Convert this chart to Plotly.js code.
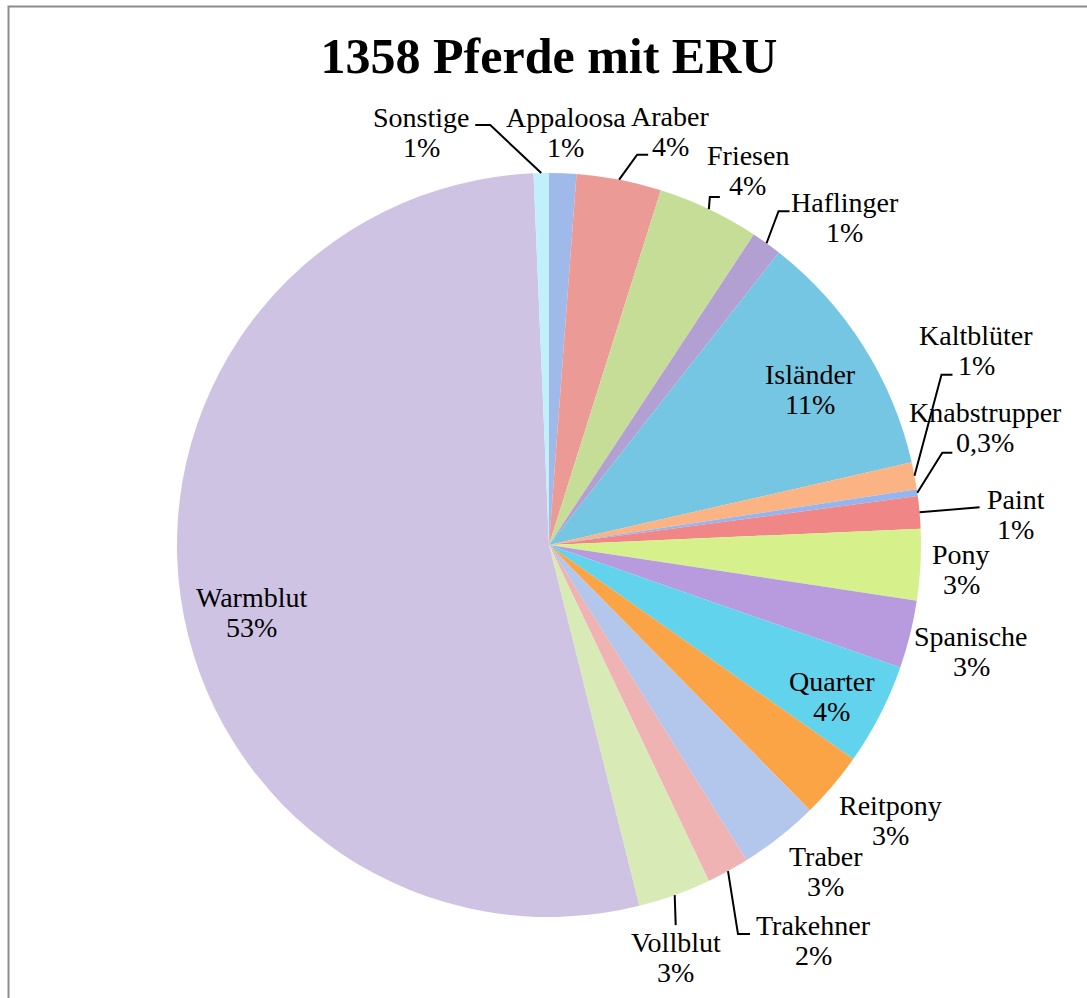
<!DOCTYPE html>
<html>
<head>
<meta charset="utf-8">
<script src="https://cdn.plot.ly/plotly-3.0.1.min.js"></script>
<style>html,body{margin:0;padding:0;background:#fff;}#chart{width:1087px;height:998px;}</style>
</head>
<body>
<div id="chart"></div>
<script>
// ---- data (total 1358 horses) ----
const breeds = ["Appaloosa","Araber","Friesen","Haflinger","Isländer","Kaltblüter","Knabstrupper","Paint","Pony","Spanische","Quarter","Reitpony","Traber","Trakehner","Vollblut","Warmblut","Sonstige"];
const horses = [16,50,60,18,147,16,4,19,42,40,60,39,47,25,43,723,9];
const sliceColors = ["#9fbaea","#eb9a96","#c6dd98","#b3a0d2","#74c6e2","#fbb384","#93b6f0","#f08686","#d6f18c","#b89ade","#62d3ec","#fba446","#b3c6ec","#efb3b3","#d8eab6","#cfc3e4","#bff0fc"];

// ---- layout configuration (not data) ----
const W = 1087, H = 998;
const CX = 549, CY = 545, R = 372;           // pie centre / radius in px
// label-centre offsets (px) from the slice-edge anchor
const labelDX = [3,51,39,78,-53,62,68,96,41,61,-48,58,46,85,1,71,-120];
const labelDY = [-41,-48,-39,-26,44,-125,-65,2,5,17,-18,35,35,69,62,14,-41];
// leader lines: [elbow, end] relative to label centre, or null
const leaders = [
  null,
  [[-33,23],[-22,23]],
  [[-38,27],[-28,27]],
  [[-66,-6],[-55,-6]],
  null,
  [[-35,24],[-24,24]],
  [[-43,25],[-33,25]],
  [[-36,-7],[-36,-7]],
  null, null, null, null, null,
  [[-75,-6],[-63,-6]],
  [[0,-32],[0,-32]],
  null,
  [[69,-7],[54,-7]]
];

const total = horses.reduce((a,b)=>a+b,0);
function pctText(v){
  const p = v/total*100;
  if (Math.round(p) === 0) return p.toFixed(1).replace('.', ',') + '%';
  return Math.round(p) + '%';
}

const fx = px => px/W, fy = py => 1 - py/H;
const labelFont = {family:'Liberation Serif, serif', size:28, color:'#000'};
const annotations = [];
const shapes = [{type:'rect', xref:'paper', yref:'paper', x0:fx(8.5), x1:1.05, y0:-0.05, y1:fy(6.5),
                 line:{color:'#8c8c8c', width:2}, fillcolor:'rgba(0,0,0,0)'}];
let cum = 0;
horses.forEach((v,i)=>{
  const mid = (cum + v/2)/total * 2*Math.PI;
  cum += v;
  const tx = CX + R*Math.sin(mid);
  const ty = CY - R*Math.cos(mid);
  const lx = tx + labelDX[i], ly = ty + labelDY[i];
  annotations.push({xref:'paper', yref:'paper', x:fx(lx), y:fy(ly-15), xanchor:'center', yanchor:'middle',
    text: breeds[i], showarrow:false, font: labelFont});
  annotations.push({xref:'paper', yref:'paper', x:fx(lx), y:fy(ly+15), xanchor:'center', yanchor:'middle',
    text: pctText(v), showarrow:false, font: labelFont});
  if (leaders[i]) {
    const e = leaders[i][0], s = leaders[i][1];
    const path = 'M' + fx(tx) + ',' + fy(ty) + ' L' + fx(lx+e[0]) + ',' + fy(ly+e[1]) + ' L' + fx(lx+s[0]) + ',' + fy(ly+s[1]);
    shapes.push({type:'path', xref:'paper', yref:'paper', path: path, line:{color:'#000', width:2}});
  }
});

const trace = {
  type:'pie',
  labels: breeds,
  values: horses,
  sort:false,
  direction:'clockwise',
  rotation:0,
  textinfo:'none',
  hoverinfo:'label+value+percent',
  marker:{colors: sliceColors, line:{width:0}},
  domain:{x:[(CX-R)/W,(CX+R)/W], y:[1-(CY+R)/H, 1-(CY-R)/H]},
  showlegend:false
};

const layout = {
  width:W, height:H,
  margin:{l:0,r:0,t:0,b:0},
  paper_bgcolor:'#fff',
  title:{text:'<b>1358 Pferde mit ERU</b>', x:549/W, xanchor:'center', y:1-55/H, yanchor:'middle', yref:'container',
         font:{family:'Liberation Serif, serif', size:50, color:'#000'}},
  annotations: annotations,
  shapes: shapes
};

Plotly.newPlot('chart',[trace],layout,{displayModeBar:false,staticPlot:true});
</script>
</body>
</html>
